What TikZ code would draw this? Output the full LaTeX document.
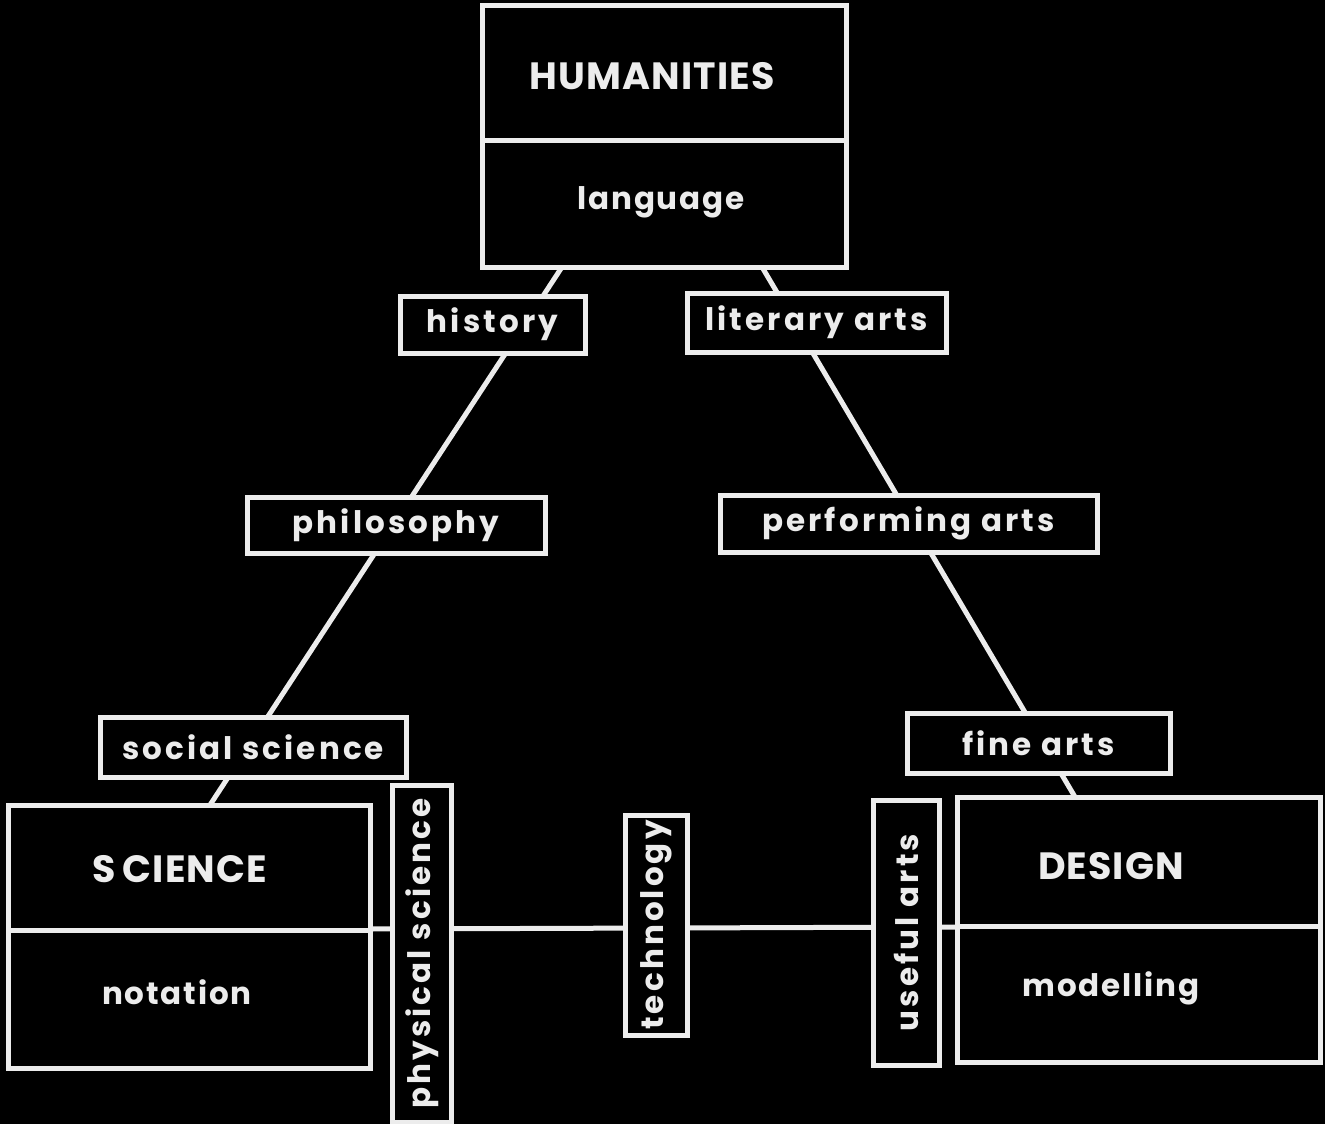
\documentclass[tikz,border=0pt]{standalone}
\usepackage{fontspec}
\setmainfont{Poppins}
\definecolor{chalk}{HTML}{ECECEC}
\begin{document}
\begin{tikzpicture}[x=1pt,y=-1pt,
  every node/.style={text=chalk, font=\bfseries},
  ln/.style={draw=chalk, line width=5pt},
  bigbox/.style={draw=chalk, fill=black, line width=5pt, inner sep=0pt},
  lab/.style={draw=chalk, fill=black, line width=5pt, inner sep=0pt, font=\fontsize{31}{34}\bfseries\addfontfeature{LetterSpace=10}},
  big/.style={font=\fontsize{38}{42}\bfseries\addfontfeature{LetterSpace=3}},
  sub/.style={font=\fontsize{31}{36}\bfseries\addfontfeature{LetterSpace=6}}]
\fill[black] (0,0) rectangle (1325,1124);
\useasboundingbox (0,0) rectangle (1325,1124);

% connectors (drawn first, labels cover them)
\coordinate (hL) at (562,267);
\coordinate (sT) at (210,805);
\coordinate (hR) at (762,267);
\coordinate (dT) at (1075,797);
\coordinate (sR) at (370,929);
\coordinate (dL) at (957,927);
\draw[ln] (hL) -- (sT);
\draw[ln] (hR) -- (dT);
\draw[ln] (sR) -- (dL);

% big boxes
\node[bigbox, minimum width=364pt, minimum height=261pt] (hum) at (664,136.5) {};
\coordinate (humD1) at (482,140); \coordinate (humD2) at (846,140);
\draw[ln] (humD1) -- (humD2);
\node[big] (humT) at (652,76) {HUMANITIES};
\node[sub] (humS) at (661,202) {language};

\node[bigbox, minimum width=362pt, minimum height=263pt] (sci) at (189,936.5) {};
\coordinate (sciD1) at (8,930); \coordinate (sciD2) at (370,930);
\draw[ln] (sciD1) -- (sciD2);
\node[big] (sciT) at (180,869) {S\,CIENCE};
\node[sub] (sciS) at (177,992) {notation};

\node[bigbox, minimum width=363pt, minimum height=265pt] (des) at (1138.5,929.5) {};
\coordinate (desD1) at (957,926); \coordinate (desD2) at (1320,926);
\draw[ln] (desD1) -- (desD2);
\node[big] (desT) at (1111,866) {DESIGN};
\node[sub] (desS) at (1111,988) {modelling};

% labels
\node[lab, minimum width=185pt, minimum height=57pt] (hist) at (492.5,324.5) {history};
\node[lab, minimum width=259pt, minimum height=59pt] (lit) at (816.5,322.5) {literary arts};
\node[lab, minimum width=298pt, minimum height=56pt] (phil) at (396,525) {philosophy};
\node[lab, minimum width=377pt, minimum height=57pt] (perf) at (908.5,523.5) {performing arts};
\node[lab, minimum width=306pt, minimum height=60pt] (soc) at (253,747) {social science};
\node[lab, minimum width=263pt, minimum height=60pt] (fine) at (1038.5,743) {fine arts};

\node[lab, minimum width=59pt, minimum height=337pt] (phys) at (422,953.5) {\rotatebox{90}{physical science}};
\node[lab, minimum width=62pt, minimum height=220pt] (tech) at (656,925) {\rotatebox{90}{technology}};
\node[lab, minimum width=66pt, minimum height=265pt] (use) at (906.5,932.5) {\rotatebox{90}{useful arts}};
\end{tikzpicture}
\end{document}
